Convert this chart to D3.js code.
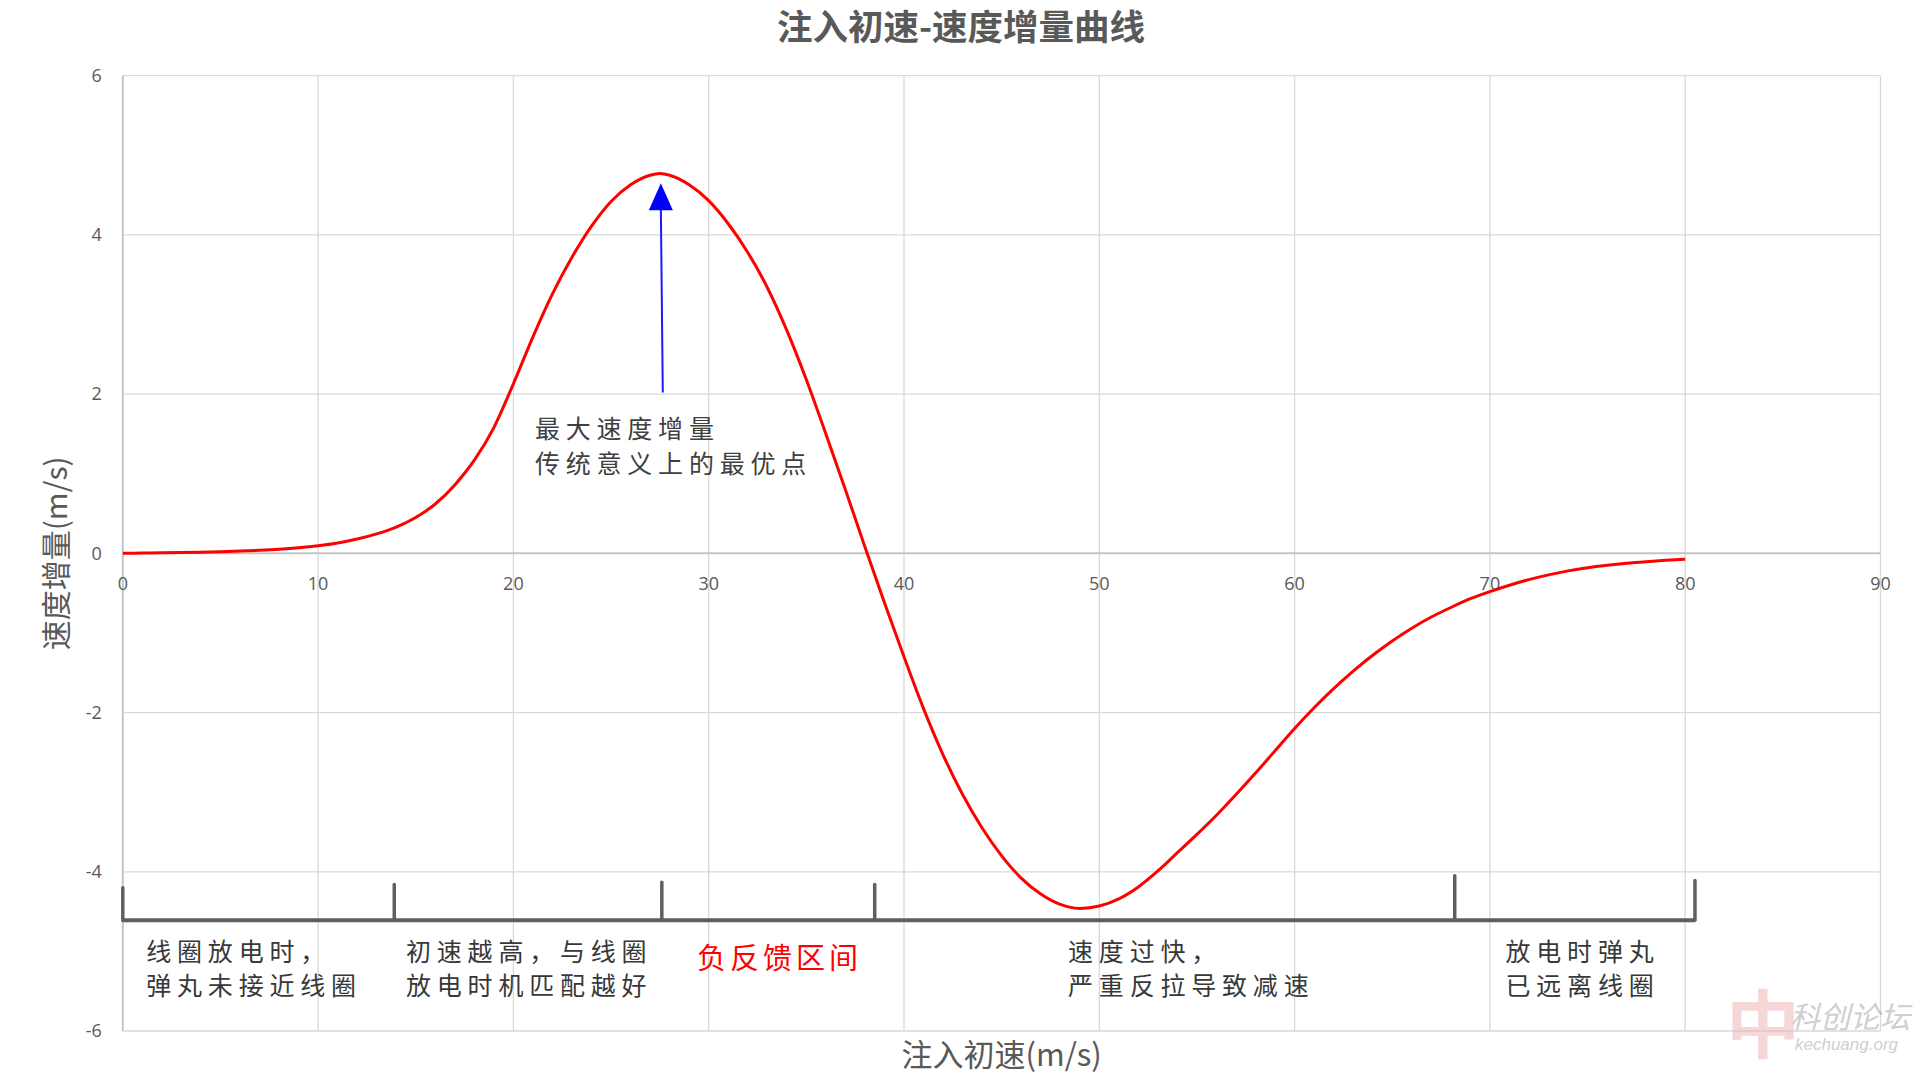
<!DOCTYPE html>
<html><head><meta charset="utf-8">
<script src="https://cdn.jsdelivr.net/npm/d3@7"></script>
<style>
html,body{margin:0;padding:0;background:#fff;}
svg{display:block;}
</style></head><body>
<svg id="chart" width="1920" height="1080"></svg>
<script>
// ---------- data ----------
const chartTitle = "注入初速-速度增量曲线";
const xAxisTitle = "注入初速(m/s)";
const yAxisTitle = "速度增量(m/s)";
const xTicks = [0, 10, 20, 30, 40, 50, 60, 70, 80, 90];
const yTicks = [-6, -4, -2, 0, 2, 4, 6];

const injectSpeed = [0,1,2,3,4,5,6,7,8,9,10,11,12,13,14,15,16,17,18,19,20,21,22,23,24,25,26,27,27.5,28,29,30,31,32,33,34,35,36,37,38,39,40,41,42,43,44,45,46,47,48,49,50,51,52,53,54,55,56,57,58,59,60,61,62,63,64,65,66,67,68,69,70,71,72,73,74,75,76,77,78,79,80];
const speedGain = [0,0.003,0.006,0.010,0.015,0.021,0.029,0.039,0.052,0.070,0.095,0.13,0.18,0.245,0.33,0.45,0.62,0.86,1.17,1.58,2.13,2.72,3.26,3.72,4.11,4.42,4.63,4.75,4.77,4.75,4.63,4.43,4.14,3.78,3.34,2.80,2.18,1.50,0.80,0.08,-0.62,-1.30,-1.95,-2.53,-3.03,-3.45,-3.80,-4.08,-4.28,-4.41,-4.46,-4.43,-4.34,-4.19,-3.99,-3.76,-3.53,-3.29,-3.03,-2.76,-2.48,-2.20,-1.94,-1.70,-1.48,-1.28,-1.10,-0.94,-0.80,-0.68,-0.57,-0.48,-0.40,-0.33,-0.27,-0.22,-0.18,-0.15,-0.125,-0.105,-0.088,-0.075];

const peakArrowFrom = [27.65, 2.02];
const peakArrowTo = [27.55, 4.65];
const peakNote = ["最大速度增量", "传统意义上的最优点"];
const peakNoteAt = [21.1, 1.45];

const phaseBounds = [0, 13.9, 27.6, 38.5, 68.2, 80.5];
const phaseTickTops = [-4.2, -4.16, -4.13, -4.16, -4.05, -4.11];
const phaseBarLevel = -4.61;
const phaseNotes = [
  ["线圈放电时，", "弹丸未接近线圈"],
  ["初速越高，与线圈", "放电时机匹配越好"],
  ["负反馈区间"],
  ["速度过快，", "严重反拉导致减速"],
  ["放电时弹丸", "已远离线圈"]
];
const phaseNoteStart = [1.2, 14.5, 29.4, 48.4, 70.8];
const phaseNoteLevel = -5.12;
const phaseHighlight = [false, false, true, false, false];

const watermark = ["科创论坛", "kechuang.org"];

// ---------- drawing ----------
const svg = d3.select("#chart");
const x = d3.scaleLinear().domain([0, 90]).range([122.8, 1880.5]);
const y = d3.scaleLinear().domain([-6, 6]).range([1031, 75.7]);

const grid = svg.append("g");
grid.selectAll("line.v").data(xTicks).enter().append("line")
  .attr("x1", d => x(d)).attr("x2", d => x(d))
  .attr("y1", y(6)).attr("y2", y(-6))
  .attr("stroke", d => d === 0 ? "#c4c4c4" : "#d9d9d9")
  .attr("stroke-width", d => d === 0 ? 2 : 1.3);
grid.selectAll("line.h").data(yTicks).enter().append("line")
  .attr("x1", x(0)).attr("x2", x(90))
  .attr("y1", d => y(d)).attr("y2", d => y(d))
  .attr("stroke", d => d === 0 ? "#c4c4c4" : "#d9d9d9")
  .attr("stroke-width", d => d === 0 ? 2 : 1.3);

const tickFont = "'Open Sans', 'Noto Sans', sans-serif";
svg.append("g").selectAll("text").data(yTicks).enter().append("text")
  .attr("x", x(0) - 21).attr("y", d => y(d)).attr("dy", "0.35em")
  .attr("text-anchor", "end").attr("font-family", tickFont).attr("font-size", 18)
  .attr("fill", "#595959").text(d => d);
svg.append("g").selectAll("text").data(xTicks).enter().append("text")
  .attr("x", d => x(d)).attr("y", y(0) + 30).attr("dy", "0.35em")
  .attr("text-anchor", "middle").attr("font-family", tickFont).attr("font-size", 18)
  .attr("fill", "#595959").text(d => d);

const cjk = "'Noto Sans CJK SC', 'Noto Sans', sans-serif";
svg.append("text").attr("x", 961).attr("y", 40).attr("text-anchor", "middle")
  .attr("font-family", cjk).attr("font-size", 35.5).attr("font-weight", "bold")
  .attr("fill", "#595959").text(chartTitle);
svg.append("text").attr("x", (x(0) + x(90)) / 2).attr("y", 1066).attr("text-anchor", "middle")
  .attr("font-family", cjk).attr("font-size", 31).attr("fill", "#595959").text(xAxisTitle);
svg.append("text").attr("transform", `translate(67,${(y(6) + y(-6)) / 2}) rotate(-90)`)
  .attr("text-anchor", "middle").attr("font-family", cjk).attr("font-size", 30)
  .attr("fill", "#595959").text(yAxisTitle);

// curve
const pts = injectSpeed.map((v, i) => [v, speedGain[i]]);
svg.append("path").datum(pts)
  .attr("d", d3.line().x(d => x(d[0])).y(d => y(d[1])).curve(d3.curveMonotoneX))
  .attr("fill", "none").attr("stroke", "#ff0000").attr("stroke-width", 3)
  .attr("stroke-linejoin", "round");

// peak arrow
const ax1 = x(peakArrowFrom[0]), ay1 = y(peakArrowFrom[1]);
const ax2 = x(peakArrowTo[0]), ay2 = y(peakArrowTo[1]);
svg.append("line").attr("x1", ax1).attr("y1", ay1).attr("x2", ax2).attr("y2", ay2 + 26)
  .attr("stroke", "#1a1aff").attr("stroke-width", 2);
svg.append("path")
  .attr("d", `M${ax2},${ay2} L${ax2 - 12},${ay2 + 27} L${ax2 + 12},${ay2 + 27} Z`)
  .attr("fill", "#0000ff");

const noteFont = "'Noto Sans CJK SC', sans-serif";
const pn = svg.append("text").attr("font-family", noteFont).attr("font-size", 25)
  .attr("letter-spacing", 5.8).attr("fill", "#404040");
peakNote.forEach((t, i) => {
  pn.append("tspan").attr("x", x(peakNoteAt[0])).attr("y", y(peakNoteAt[1]) + i * 35).text(t);
});

// phase bar
const bar = svg.append("g");
bar.append("line").attr("x1", x(phaseBounds[0])).attr("x2", x(phaseBounds[phaseBounds.length - 1]))
  .attr("y1", y(phaseBarLevel)).attr("y2", y(phaseBarLevel))
  .attr("stroke", "#5f5f5f").attr("stroke-width", 4);
bar.selectAll("line.t").data(phaseBounds).enter().append("line")
  .attr("x1", d => x(d)).attr("x2", d => x(d))
  .attr("y1", (d, i) => y(phaseTickTops[i])).attr("y2", y(phaseBarLevel))
  .attr("stroke", "#5f5f5f").attr("stroke-width", 3.5).attr("stroke-linecap", "round");

phaseNotes.forEach((lines, i) => {
  const hl = phaseHighlight[i];
  const t = svg.append("text").attr("font-family", noteFont)
    .attr("font-size", hl ? 29 : 25).attr("letter-spacing", hl ? 4 : 5.8)
    .attr("fill", hl ? "#ff0000" : "#383838");
  lines.forEach((s, j) => {
    t.append("tspan").attr("x", x(phaseNoteStart[i]))
      .attr("y", y(phaseNoteLevel) + (hl ? 8 : 0) + j * 34.5).text(s);
  });
});

// watermark
const wm = svg.append("g").attr("opacity", 0.55);
wm.append("text").attr("x", 1763).attr("y", 1052).attr("text-anchor", "middle")
  .attr("font-family", cjk).attr("font-size", 74).attr("font-weight", "bold")
  .attr("fill", "#f0b8b8").text("中");
wm.append("text").attr("x", 1790).attr("y", 1028).attr("font-family", cjk)
  .attr("font-size", 30).attr("font-style", "italic").attr("fill", "#a8a8a8").text(watermark[0]);
wm.append("text").attr("x", 1795).attr("y", 1050).attr("font-family", "'Liberation Sans', sans-serif")
  .attr("font-size", 17).attr("font-style", "italic").attr("fill", "#a8a8a8").text(watermark[1]);
</script>
</body></html>
